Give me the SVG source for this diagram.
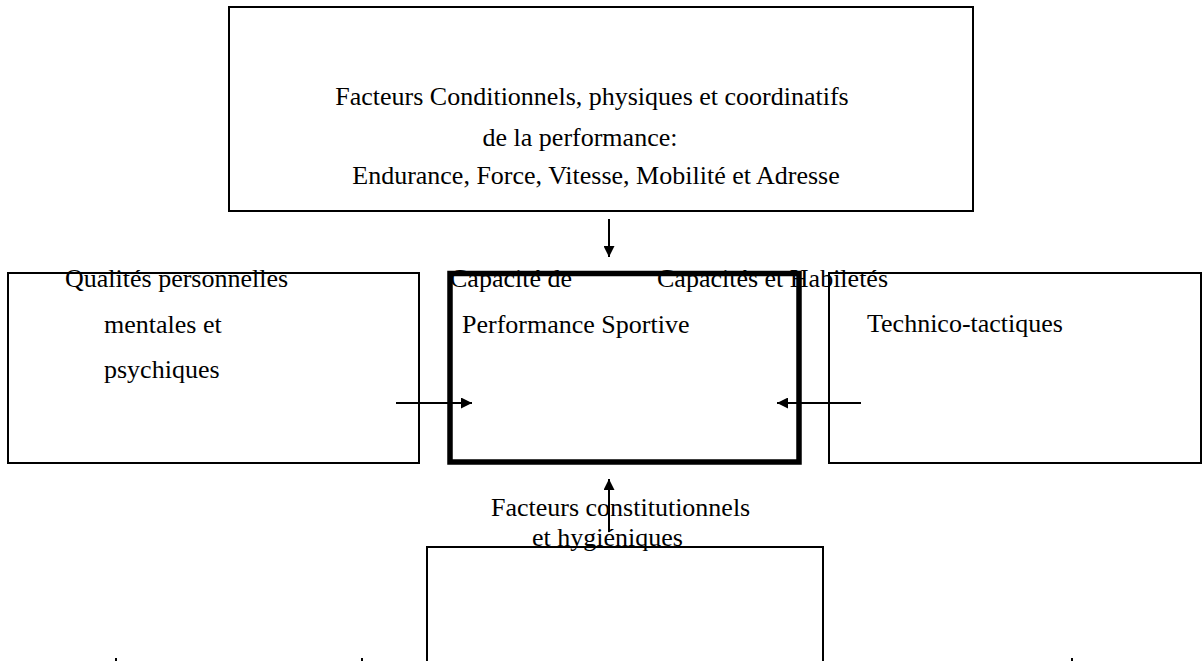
<svg xmlns="http://www.w3.org/2000/svg" width="1203" height="661" viewBox="0 0 1203 661">
<style>
text{font-family:"Liberation Serif","Times New Roman",serif;font-size:26px;fill:#000}
.box{fill:none;stroke:#000;stroke-width:2}
.main{fill:none;stroke:#000;stroke-width:5.5}
.con{stroke:#000;stroke-width:2;fill:none}
</style>
<defs>
<marker id="ah" viewBox="0 0 10 10" refX="10" refY="5" markerWidth="11" markerHeight="11" markerUnits="userSpaceOnUse" orient="auto">
<path d="M0,0 L10,5 L0,10 Z" fill="#000"/>
</marker>
</defs>
<rect width="1203" height="661" fill="#fff"/>
<g id="node-top">
<rect class="box" x="229" y="7" width="744" height="204"/>
<text x="592" y="105" text-anchor="middle">Facteurs Conditionnels, physiques et coordinatifs</text>
<text x="580" y="146" text-anchor="middle">de la performance:</text>
<text x="596" y="184" text-anchor="middle">Endurance, Force, Vitesse, Mobilité et Adresse</text>
</g>
<g id="node-left">
<rect class="box" x="8" y="273" width="411" height="190"/>
<text x="65" y="287">Qualités personnelles</text>
<text x="104" y="333">mentales et</text>
<text x="104" y="378">psychiques</text>
</g>
<g id="node-right">
<rect class="box" x="829" y="273" width="372" height="190"/>
<text x="867" y="332">Technico-tactiques</text>
</g>
<g id="node-bottom">
<rect class="box" x="427" y="547" width="396" height="130"/>
</g>
<g id="node-center">
<rect class="main" x="450" y="273.5" width="349" height="188.5"/>
<text x="450" y="287">Capacité de</text>
<text x="462" y="333">Performance Sportive</text>
<text x="657" y="287">Capacités et Habiletés</text>
</g>
<g id="label-bottom">
<text x="491" y="516">Facteurs constitutionnels</text>
<text x="532" y="546">et hygiéniques</text>
</g>
<g id="connectors">
<line class="con" x1="609" y1="219" x2="609" y2="257" marker-end="url(#ah)"/>
<line class="con" x1="396" y1="403" x2="472" y2="403" marker-end="url(#ah)"/>
<line class="con" x1="861" y1="403" x2="777" y2="403" marker-end="url(#ah)"/>
<line class="con" x1="609" y1="532" x2="609" y2="479" marker-end="url(#ah)"/>
</g>
<g id="marks">
<rect x="115" y="658" width="2" height="3" fill="#000"/>
<rect x="361" y="658" width="2" height="3" fill="#000"/>
<rect x="1071" y="658" width="2" height="3" fill="#000"/>
</g>
</svg>
